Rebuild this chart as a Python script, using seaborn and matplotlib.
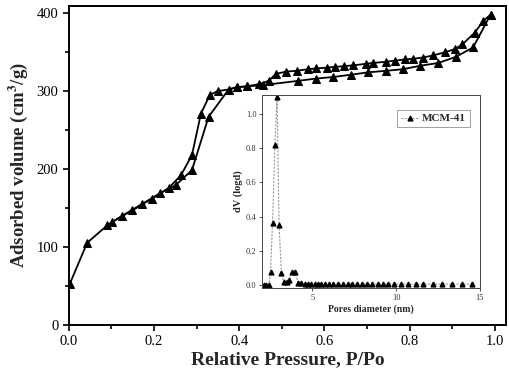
import numpy as np
import pandas as pd
import matplotlib
matplotlib.use("Agg")
import matplotlib.pyplot as plt
from matplotlib.ticker import MultipleLocator
import seaborn as sns

# adsorption branch (lower)
ads_p = [0.002, 0.043, 0.090, 0.125, 0.171, 0.214, 0.251, 0.289, 0.328, 0.375, 0.394,
         0.418, 0.456, 0.537, 0.580, 0.620, 0.663, 0.702, 0.745, 0.784, 0.824, 0.867,
         0.909, 0.949, 0.990]
ads_v = [52.6, 105.5, 127.8, 140, 155, 169, 179.5, 198.7, 267, 302, 305,
         306, 307.7, 313, 316, 318, 321, 324, 326, 328, 332.4, 336,
         344, 356, 398]

# desorption branch (upper)
des_p = [0.990, 0.973, 0.953, 0.924, 0.906, 0.882, 0.855, 0.831, 0.808, 0.790, 0.765,
         0.745, 0.714, 0.698, 0.668, 0.647, 0.624, 0.606, 0.580, 0.561, 0.535, 0.510,
         0.486, 0.469, 0.447, 0.418, 0.394, 0.375, 0.349, 0.331, 0.310, 0.289, 0.263,
         0.235, 0.195, 0.149, 0.102]
des_v = [398, 390, 375, 360, 353.8, 349.6, 345.7, 343, 341.4, 340.6, 339,
         337.6, 336, 335, 333, 332, 331, 330, 329, 328, 326, 325,
         322, 313, 309, 306, 305, 302, 300, 295, 271, 218, 192,
         176, 162, 147, 132.5]

# inset: pore size distribution
pore_d = [2.12, 2.26, 2.40, 2.50, 2.62, 2.76, 2.89, 3.01, 3.15, 3.29, 3.49, 3.61, 3.77, 3.96,
          4.14, 4.34, 4.54, 4.74, 4.94, 5.13, 5.33, 5.53, 5.73, 5.98, 6.22, 6.52, 6.82,
          7.11, 7.38, 7.65, 7.97, 8.25, 8.57, 8.90, 9.20, 9.49, 9.89, 10.29, 10.68,
          11.18, 11.62, 12.17, 12.73, 13.33, 13.92, 14.55]
dv_logd = [0.0, 0.0, 0.0, 0.078, 0.364, 0.819, 1.098, 0.351, 0.068, 0.02, 0.016, 0.03, 0.078, 0.078,
           0.014, 0.009, 0.008, 0.008, 0.007, 0.007, 0.007, 0.006, 0.006, 0.006, 0.006, 0.005, 0.005,
           0.005, 0.005, 0.005, 0.005, 0.005, 0.005, 0.005, 0.005, 0.005, 0.005, 0.005, 0.005,
           0.005, 0.005, 0.005, 0.005, 0.005, 0.005, 0.005]

sns.set_style("ticks")
plt.rcParams['font.family'] = ['Liberation Serif', 'DejaVu Serif']
plt.rcParams['mathtext.fontset'] = 'stix'

fig = plt.figure(figsize=(5.1, 3.78), dpi=100)
ax = fig.add_axes([0.135, 0.140, 0.857, 0.844])

ads = pd.DataFrame({"p": ads_p, "v": ads_v})
des = pd.DataFrame({"p": des_p, "v": des_v})
for df in (ads, des):
    sns.lineplot(data=df, x="p", y="v", sort=False, color="black", lw=1.3,
                 marker="^", markersize=5.8, markeredgecolor="black", ax=ax)

ax.set_xlim(0, 1.026)
ax.set_ylim(0, 409)
ax.xaxis.set_major_locator(MultipleLocator(0.2))
ax.xaxis.set_minor_locator(MultipleLocator(0.1))
ax.yaxis.set_major_locator(MultipleLocator(100))
ax.yaxis.set_minor_locator(MultipleLocator(50))
ax.tick_params(which="both", direction="out", width=1.2, labelsize=10.5, colors="black")
ax.tick_params(which="major", length=4)
ax.tick_params(which="minor", length=3)
ax.xaxis.set_major_formatter(matplotlib.ticker.FormatStrFormatter('%.1f'))
for s in ax.spines.values():
    s.set_linewidth(1.4)
    s.set_color("black")
ax.set_xlabel("Relative Pressure, P/Po", fontsize=14, fontweight="bold", labelpad=2)
ax.set_ylabel(r"Adsorbed volume (cm$^\mathbf{3}$/g)", fontsize=13.5, fontweight="bold", labelpad=5)

# inset
ins = fig.add_axes([0.514, 0.238, 0.427, 0.512])
ins.plot(pore_d, dv_logd, color="#999999", lw=0.8, ls=(0, (2, 1.2)),
         marker="^", markersize=3.5, markerfacecolor="black", markeredgecolor="black",
         label="MCM-41")
ins.set_xlim(2, 15)
ins.set_ylim(-0.018, 1.115)
ins.xaxis.set_major_locator(MultipleLocator(5))
ins.yaxis.set_major_locator(MultipleLocator(0.2))
ins.tick_params(direction="out", length=2.5, width=0.6, labelsize=6, pad=1.5, colors="#333333")
for s in ins.spines.values():
    s.set_linewidth(0.7)
    s.set_color("#444444")
ins.set_xlabel("Pores diameter (nm)", fontsize=7, fontweight="bold", labelpad=2)
ins.set_ylabel("dV (logd)", fontsize=7.5, fontweight="bold", labelpad=2)
leg = ins.legend(loc="upper right", prop={"size": 8, "weight": "bold"}, frameon=True,
                 fancybox=False, handlelength=1.6, borderpad=0.35, handletextpad=0.3,
                 bbox_to_anchor=(0.98, 0.95))
leg.get_frame().set_edgecolor("#888888")
leg.get_frame().set_linewidth(0.7)

fig.savefig("out.png", dpi=100)
